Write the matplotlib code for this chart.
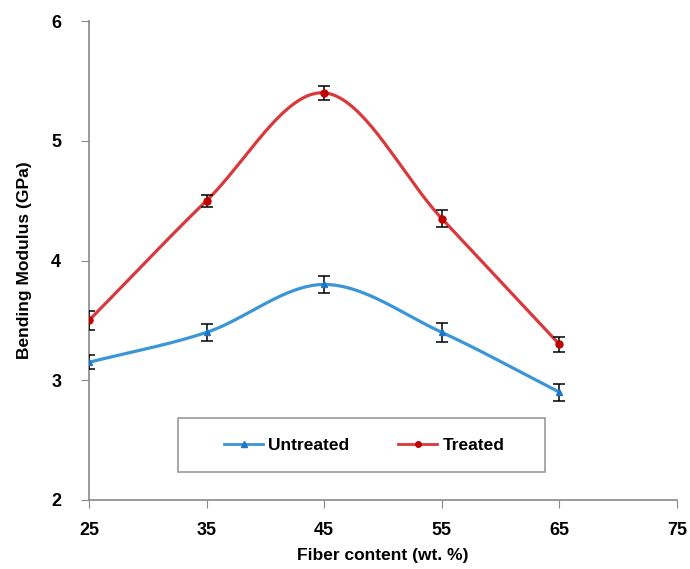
import numpy as np
import matplotlib.pyplot as plt
from matplotlib.patches import Rectangle

fiber = [25, 35, 45, 55, 65]
untreated = [3.15, 3.4, 3.8, 3.4, 2.9]
untreated_err = [0.06, 0.07, 0.07, 0.08, 0.07]
treated = [3.5, 4.5, 5.4, 4.35, 3.3]
treated_err = [0.08, 0.05, 0.06, 0.07, 0.06]


def smooth(x, y, n=40):
    # Catmull-Rom style smoothing, like Excel's smoothed line
    x = np.asarray(x, float)
    y = np.asarray(y, float)
    px = np.concatenate([[2 * x[0] - x[1]], x, [2 * x[-1] - x[-2]]])
    py = np.concatenate([[2 * y[0] - y[1]], y, [2 * y[-1] - y[-2]]])
    xs, ys = [], []
    t = np.linspace(0, 1, n)
    for i in range(1, len(px) - 2):
        p0, p1, p2, p3 = [np.array([px[j], py[j]]) for j in range(i - 1, i + 3)]
        b1 = p1 + (p2 - p0) / 6
        b2 = p2 - (p3 - p1) / 6
        pts = (((1 - t) ** 3)[:, None] * p1 + (3 * (1 - t) ** 2 * t)[:, None] * b1
               + (3 * (1 - t) * t ** 2)[:, None] * b2 + (t ** 3)[:, None] * p2)
        xs.extend(pts[:, 0])
        ys.extend(pts[:, 1])
    return xs, ys


plt.rcParams['font.family'] = ['Liberation Sans', 'DejaVu Sans']
plt.rcParams['font.weight'] = 'bold'

fig = plt.figure(figsize=(6.9, 5.69), dpi=100)
ax = fig.add_axes([89 / 690, 69 / 569, 588 / 690, 479 / 569])

blue = '#3a96d6'
red = '#d9393c'

sx, sy = smooth(fiber, untreated)
ax.plot(sx, sy, color=blue, lw=2.3)
sx, sy = smooth(fiber, treated)
ax.plot(sx, sy, color=red, lw=2.3)

ax.errorbar(fiber, untreated, yerr=untreated_err, fmt='none', ecolor='black',
            elinewidth=1.1, capsize=4, capthick=1.1, zorder=3)
ax.errorbar(fiber, treated, yerr=treated_err, fmt='none', ecolor='black',
            elinewidth=1.1, capsize=4, capthick=1.1, zorder=3)
ax.plot(fiber, untreated, '^', color='#1f77c4', ms=5, zorder=4)
ax.plot(fiber, treated, 'o', color='#c00000', ms=5, zorder=4)

ax.plot([], [], color=blue, lw=2, marker='^', ms=4, mfc='#1f77c4', mec='#1f77c4', label='Untreated')
ax.plot([], [], color=red, lw=2, marker='o', ms=4, mfc='#c00000', mec='#c00000', label='Treated')

ax.set_xlim(25, 75)
ax.set_ylim(2, 6)
ax.set_xticks([25, 35, 45, 55, 65, 75])
ax.set_yticks([2, 3, 4, 5, 6])
ax.tick_params(direction='out', length=6, color='#888888', labelsize=13)
ax.tick_params(axis='x', pad=10)
ax.tick_params(axis='y', pad=14)
for s in ['top', 'right']:
    ax.spines[s].set_visible(False)
for s in ['left', 'bottom']:
    ax.spines[s].set_color('#888888')
    ax.spines[s].set_linewidth(1.2)

ax.set_xlabel('Fiber content (wt. %)', fontsize=12.5, fontweight='bold', labelpad=6)
ax.set_ylabel('Bending Modulus (GPa)', fontsize=12.5, fontweight='bold', labelpad=14)

# legend frame
ax.add_patch(Rectangle((0.151, 0.058), 0.624, 0.113, transform=ax.transAxes,
                       fill=False, edgecolor='#999999', lw=1.2, zorder=5))
leg = ax.legend(loc='center', bbox_to_anchor=(0.151 + 0.624 / 2 + 0.005, 0.058 + 0.113 / 2),
                ncol=2, frameon=False, fontsize=12.5, handlelength=2.25,
                handletextpad=0.3, columnspacing=2.8, borderaxespad=0)

fig.savefig('out.png', dpi=100)
